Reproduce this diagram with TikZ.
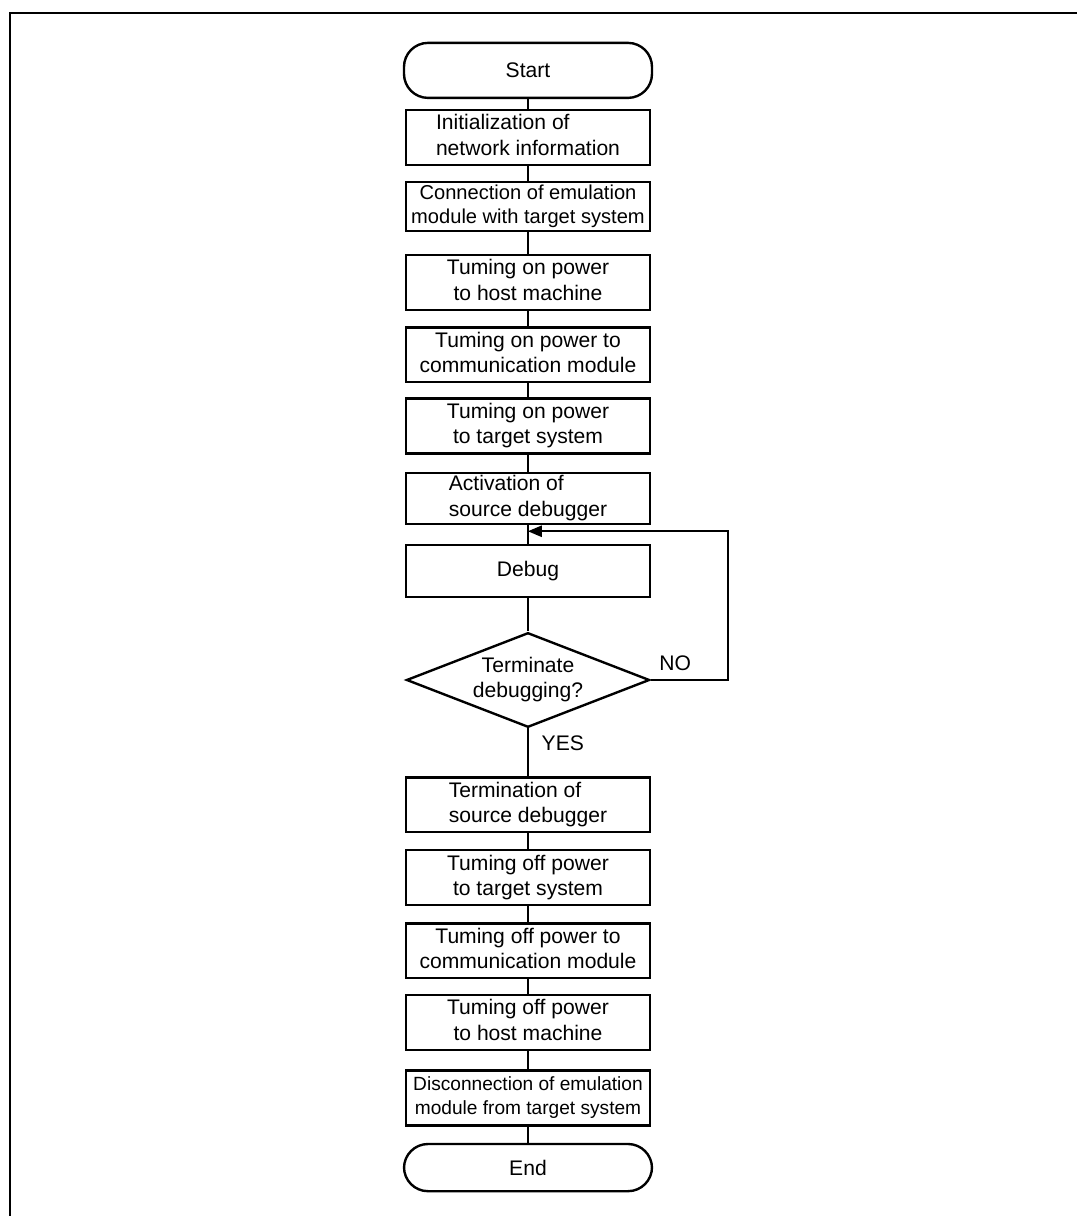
\documentclass[tikz,border=0pt]{standalone}
\usepackage{fontspec}
\setmainfont{Liberation Sans}
\usetikzlibrary{shapes,arrows}
\usetikzlibrary{calc}
\setlength{\tabcolsep}{1pt}

\begin{document}
\begin{tikzpicture}

\tikzstyle{term} = [draw, rounded corners=0.6cm, inner sep=0, minimum width=6.2cm,
minimum height=1.375cm, line width=1.7pt, font=\fontsize{15}{18}\selectfont]
\tikzstyle{stepbox} = [draw, inner sep=0, minimum width=6.1cm, minimum height=1.37cm,
line width=1.7pt, font=\fontsize{15}{18}\selectfont]
\tikzstyle{ask} = [draw, diamond, inner sep=0, aspect=2.57, minimum width=6.0cm,
minimum height=2.3cm, line width=1.7pt, font=\fontsize{15}{18}\selectfont]
\tikzstyle{link} = [line width=1.3pt]
\tikzstyle{tag} = [font=\fontsize{15}{18}\selectfont]

\useasboundingbox (0,0) rectangle (26.925,30.4);

% frame
\draw[line width=1.4pt] (0.25,0) -- (0.25,30.075) -- (26.925,30.075);

\node [term] (start) at (13.2,28.64) {Start};
\node [stepbox] (init) at (13.2,26.96) {\begin{tabular}{l} Initialization of \\ network information\end{tabular}};
\node [stepbox, minimum height=1.18cm, font=\fontsize{14.3}{17.5}\selectfont] (conn) at (13.2,25.24) {\begin{tabular}{c} Connection of emulation \\ module with target system\end{tabular}};
\node [stepbox] (onhost) at (13.2,23.34) {\begin{tabular}{c} Tuming on power \\ to host machine\end{tabular}};
\node [stepbox] (oncomm) at (13.2,21.53) {\begin{tabular}{c} Tuming on power to \\ communication module\end{tabular}};
\node [stepbox] (ontarget) at (13.2,19.75) {\begin{tabular}{c} Tuming on power \\ to target system\end{tabular}};
\node [stepbox, minimum height=1.28cm] (act) at (13.2,17.94) {\begin{tabular}{l} Activation of \\ source debugger\end{tabular}};
\node [stepbox, minimum height=1.3cm] (debug) at (13.2,16.13) {Debug};

\node [ask] (quit) at (13.2,13.4) {\begin{tabular}{c} Terminate \\ debugging?\end{tabular}};

\node [stepbox] (stop) at (13.2,10.28) {\begin{tabular}{l} Termination of \\ source debugger\end{tabular}};
\node [stepbox] (offtarget) at (13.2,8.46) {\begin{tabular}{c} Tuming off power \\ to target system\end{tabular}};
\node [stepbox] (offcomm) at (13.2,6.63) {\begin{tabular}{c} Tuming off power to \\ communication module\end{tabular}};
\node [stepbox] (offhost) at (13.2,4.84) {\begin{tabular}{c} Tuming off power \\ to host machine\end{tabular}};
\node [stepbox, font=\fontsize{13.6}{17}\selectfont] (disc) at (13.2,2.95) {\begin{tabular}{c} Disconnection of emulation \\ module from target system\end{tabular}};
\node [term, minimum height=1.18cm] (end) at (13.2,1.21) {End};

\foreach \a/\b in {start/init, init/conn, conn/onhost, onhost/oncomm, oncomm/ontarget,
ontarget/act, act/debug, debug/quit, quit/stop, stop/offtarget, offtarget/offcomm,
offcomm/offhost, offhost/disc, disc/end}
  \draw[link] (\a.south) -- (\b.north);

% loop back when not done
\coordinate (back) at ($(act.south)!0.33!(debug.north)$);
\draw[link, -triangle 45] (quit.east) -- ++(1.93,0) |- (back);

\node [tag] (no) at (16.88,13.83) {NO};
\node [tag] (yes) at (14.07,11.83) {YES};

\end{tikzpicture}
\end{document}
